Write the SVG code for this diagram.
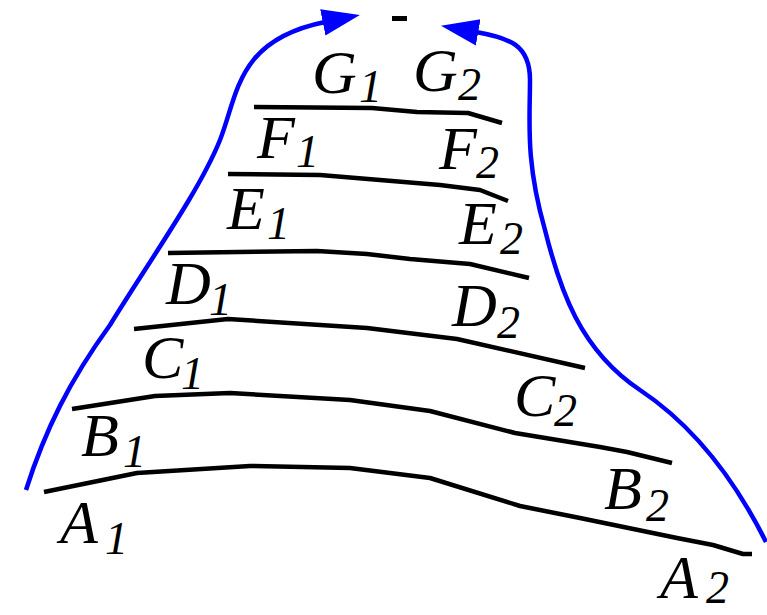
<svg xmlns="http://www.w3.org/2000/svg" width="767" height="615" viewBox="0 0 767 615">
<style>
.ln{fill:none;stroke:#000;stroke-width:4.5;stroke-linejoin:round}
.bl{fill:none;stroke:#0000ff;stroke-width:4.5}
.lb{font-family:"Liberation Serif","DejaVu Serif",serif;font-style:italic;font-size:62px;fill:#000}
.sb{font-size:46px}
</style>
<defs>
<marker id="ah" markerUnits="userSpaceOnUse" markerWidth="40" markerHeight="30" viewBox="0 -13 36 26" refX="2" refY="0" orient="auto">
<path d="M0,-12 L34,0 L0,12 z" fill="#0000ff"/>
</marker>
</defs>
<rect width="767" height="615" fill="#fff"/>
<g id="connectors">
<path class="bl" d="M26,490 C45,430 70,380 110,325 C150,260 200,190 220,140 C238,95 236,40 325,22" marker-end="url(#ah)"/>
<path class="bl" d="M766,542 C740,490 700,430 640,390 C580,350 560,290 545,230 C525,160 530,120 530,80 C530,45 510,38 476,32" marker-end="url(#ah)"/>
<rect x="392" y="16" width="15" height="5" fill="#000"/>
</g>
<g id="lineG"><polyline class="ln" points="254,107 372,108 417,112 468,113 502,123"/></g>
<g id="lineF"><polyline class="ln" points="228,174 320,175 440,185 480,190 508,201"/></g>
<g id="lineE"><polyline class="ln" points="168,253 317,251 367,254 410,259 470,264 529,278"/></g>
<g id="lineD"><polyline class="ln" points="134,329 228,319 367,328 457,339 585,368"/></g>
<g id="lineC"><polyline class="ln" points="72,409 155,396 230,393 350,400 430,411 515,433 600,447 627,452 672,463"/></g>
<g id="lineA"><polyline class="ln" points="44,492 137,473 250,466 350,468 430,478 520,506 580,518 677,538 713,545 743,554 752,554"/></g>
<g id="labels">
<text class="lb" x="312" y="93">G</text><text class="lb sb" x="359" y="102">1</text>
<text class="lb" x="413" y="91">G</text><text class="lb sb" x="458" y="100">2</text>
<text class="lb" x="257" y="158">F</text><text class="lb sb" x="296" y="167">1</text>
<text class="lb" x="439" y="169">F</text><text class="lb sb" x="476" y="178">2</text>
<text class="lb" x="227" y="229">E</text><text class="lb sb" x="267" y="239">1</text>
<text class="lb" x="459" y="244">E</text><text class="lb sb" x="500" y="254">2</text>
<text class="lb" x="166" y="304">D</text><text class="lb sb" x="209" y="315">1</text>
<text class="lb" x="452" y="326">D</text><text class="lb sb" x="497" y="338">2</text>
<text class="lb" x="142" y="378">C</text><text class="lb sb" x="181" y="389">1</text>
<text class="lb" x="514" y="416">C</text><text class="lb sb" x="554" y="426">2</text>
<text class="lb" x="81" y="456">B</text><text class="lb sb" x="123" y="467">1</text>
<text class="lb" x="604" y="509">B</text><text class="lb sb" x="646" y="521">2</text>
<text class="lb" x="60" y="543">A</text><text class="lb sb" x="105" y="554">1</text>
<text class="lb" x="660" y="598">A</text><text class="lb sb" x="706" y="603">2</text>
</g>
</svg>
